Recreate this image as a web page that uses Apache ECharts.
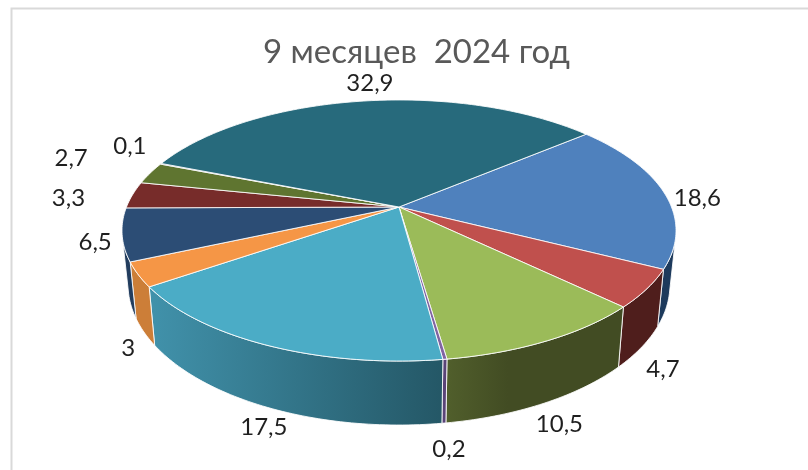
<!DOCTYPE html>
<html>
<head>
<meta charset="utf-8">
<style>html,body{margin:0;padding:0;background:#fff}#c{width:808px;height:470px}</style>
<script src="https://cdn.jsdelivr.net/npm/echarts@6/dist/echarts.min.js"></script>
</head>
<body>
<div id="c"></div>
<script>
// Data, in the order of the slices clockwise from the first-slice angle
const titleText = '9 месяцев  2024 год';
const sliceValues = [18.6, 4.7, 10.5, 0.2, 17.5, 3, 6.5, 3.3, 2.7, 0.1, 32.9];
const firstSliceAngle = 50;

// Styles
const topColors = ['#4F81BD','#C0504D','#9BBB59','#8064A2','#4BACC6','#F59646','#2C4D75','#772C2A','#5F7530','#4D3B62','#276A7C'];
const wallStops = [
  [[0,'#1D3A5C'],[1,'#1D3A5C']], [[0,'#4F1E1C'],[1,'#4F1E1C']], [[0,'#515F2C'],[0.35,'#424C23'],[1,'#424C23']], [[0,'#5A4478'],[1,'#5A4478']],
  [[0,'#4192AB'],[1,'#245766']], [[0,'#CC7E38'],[1,'#CC7E38']], [[0,'#223D5E'],[1,'#223D5E']], [[0,'#501D1C'],[1,'#501D1C']],
  [[0,'#3F4E20'],[1,'#3F4E20']], [[0,'#332740'],[1,'#332740']], [[0,'#1A4753'],[1,'#1A4753']]
];
// Label displacement from the rim point at each slice's mid angle
const labelNudge = [[33,5],[16,81],[12,84],[4,90],[-3,82],[-10,74],[-27,8],[-64,3],[-79,-15],[-31,-18],[8,-18]];

// Perspective of the pie plane
const view = {cx:399, cy:207, a:272.5, b:126.3, k:0.18, depth:52.5, shrink:0.978};
const total = sliceValues.reduce((s,v)=>s+v,0);
const startAngles = [];
sliceValues.reduce((acc,v,i)=>{startAngles[i]=acc;return acc+v/total*360;},firstSliceAngle);

function rim(deg){
  const t = deg*Math.PI/180, u = Math.sin(t), v = -Math.cos(t), w = 1-view.k*v;
  return {x:view.cx+view.a*u/w, y:view.cy+view.b*v/w, w:w, deg:deg};
}
function arc(a0,a1){
  const n = Math.max(2,Math.ceil((a1-a0)/1.0)), pts=[];
  for(let i=0;i<=n;i++) pts.push(rim(a0+(a1-a0)*i/n));
  return pts;
}
function base(p){ return [view.cx+(p.x-view.cx)*view.shrink, p.y+view.depth/p.w]; }
// A rim point's wall faces the viewer when the outline turns to the lower side of the drop
function facesViewer(deg){
  const a=rim(deg-0.2), b=rim(deg+0.2), p=rim(deg), q=base(p);
  return (b.x-a.x)*(q[1]-p.y)-(b.y-a.y)*(q[0]-p.x) < 0;
}
function sliceRange(i){ return [startAngles[i], startAngles[i]+sliceValues[i]/total*360]; }
function fmt(v){ return String(v).replace('.',','); }

const seriesData = sliceValues.map(v=>[v]);

const option = {
  backgroundColor:'#fff',
  animation:false,
  title:{
    text:titleText, left:411.5, top:31, textAlign:'center',
    textStyle:{color:'#595959', fontSize:33, fontWeight:'normal', fontFamily:'Lato, "Open Sans", sans-serif'}
  },
  graphic:[{
    type:'polyline', silent:true,
    shape:{points:[[11.5,470],[11.5,8.5],[808,8.5]]},
    style:{stroke:'#D9D9D9', lineWidth:2, fill:null}
  }],
  series:[
    { // side walls
      type:'custom', coordinateSystem:'none', z:2, silent:true, data:seriesData,
      renderItem:function(params){
        const i=params.dataIndex, r=sliceRange(i);
        const top=arc(r[0],r[1]).filter(p=>facesViewer(p.deg));
        if(top.length<2) return {type:'group',children:[]};
        const pts=top.map(p=>[p.x,p.y]).concat(top.slice().reverse().map(base));
        return {type:'polygon', shape:{points:pts},
          style:{fill:{type:'linear',x:0,y:0,x2:1,y2:0,colorStops:wallStops[i].map(s=>({offset:s[0],color:s[1]}))},
                 stroke:'rgba(255,255,255,0.85)', lineWidth:1}};
      }
    },
    { // top faces and value labels
      type:'custom', coordinateSystem:'none', z:3, silent:true, data:seriesData,
      renderItem:function(params,api){
        const i=params.dataIndex, r=sliceRange(i), m=rim((r[0]+r[1])/2);
        const pts=[[view.cx,view.cy]].concat(arc(r[0],r[1]).map(p=>[p.x,p.y]));
        return {type:'group',children:[
          {type:'polygon', shape:{points:pts},
           style:{fill:topColors[i], stroke:'rgba(255,255,255,0.85)', lineWidth:1, lineJoin:'round'}},
          {type:'text', z2:50, style:{text:fmt(api.value(0)), x:m.x+labelNudge[i][0], y:m.y+labelNudge[i][1],
            align:'center', verticalAlign:'middle', fill:'#1f1f1f', fontSize:24,
            fontFamily:'Lato, "Open Sans", sans-serif'}}
        ]};
      }
    }
  ]
};
echarts.init(document.getElementById('c'),null,{renderer:'canvas'}).setOption(option);
</script>
</body>
</html>
